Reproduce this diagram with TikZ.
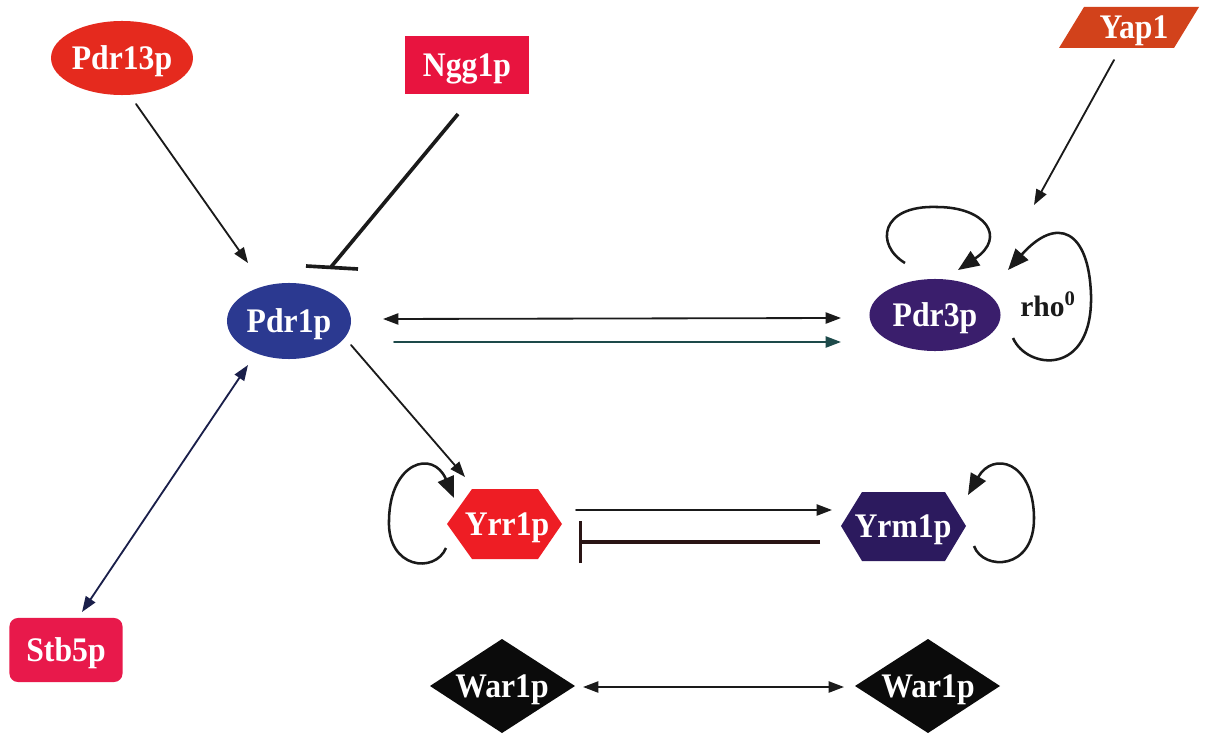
\documentclass[tikz,border=0pt]{standalone}
\usepackage{fontspec}
\usepackage{graphicx}
\setmainfont{Liberation Serif}
\usetikzlibrary{arrows.meta,shapes.geometric}
\definecolor{cPdrT}{HTML}{E52A1E}
\definecolor{cNgg}{HTML}{E8143F}
\definecolor{cYap}{HTML}{D2421B}
\definecolor{cPdrA}{HTML}{2B3990}
\definecolor{cPdrC}{HTML}{3A1E6C}
\definecolor{cStb}{HTML}{E8194B}
\definecolor{cYrr}{HTML}{EE1D24}
\definecolor{cYrm}{HTML}{2C1A5E}
\definecolor{cWar}{HTML}{0B0B0B}
\definecolor{linec}{HTML}{1A1A1A}
\definecolor{tealc}{HTML}{1D4A4A}
\definecolor{navyc}{HTML}{1A1F4A}
\definecolor{brownc}{HTML}{2A1515}
\newcommand{\lab}[1]{\scalebox{0.92}[1]{#1}}
\tikzset{
  lbl/.style={font=\fontsize{24.5}{26}\selectfont\bfseries, text=white, inner sep=0pt, text height=16.2pt, text depth=0pt},
  ell/.style={ellipse, inner sep=0pt, lbl},
  box/.style={rectangle, inner sep=0pt, lbl},
  con/.style={line width=1.3pt, draw=linec, line cap=round},
  onehead/.style={con, -{Triangle[length=11pt,width=8pt]}},
  twohead/.style={con, {Triangle[length=11pt,width=8pt]}-{Triangle[length=11pt,width=8pt]}},
  loopline/.style={line width=1.8pt, draw=linec, -{Triangle[length=15pt,width=12pt]}},
  inhib/.style={line width=2.6pt, draw=linec},
}
\begin{document}
\begin{tikzpicture}[x=0.025cm,y=-0.025cm]
\useasboundingbox[fill=white] (0,0) rectangle (1210,735);

% ---- nodes with shapes
\node[ell, fill=cPdrT, minimum width=3.225cm, minimum height=1.85cm] (pdr13) at (122,58) {\lab{Pdr13p}};
\node[box, fill=cNgg, minimum width=3.075cm, minimum height=1.45cm] (ngg1) at (467,65) {\lab{Ngg1p}};
\node[ell, fill=cPdrA, minimum width=3.1cm, minimum height=1.9cm] (pdr1) at (289,321) {\lab{Pdr1p}};
\node[ell, fill=cPdrC, minimum width=3.275cm, minimum height=1.8cm] (pdr3) at (935,315) {\lab{Pdr3p}};
\node[box, fill=cStb, rounded corners=6pt, minimum width=2.825cm, minimum height=1.6cm] (stb5) at (66,650) {\lab{Stb5p}};

% drawn shapes
\fill[cYap] (1084,7) -- (1199,7) -- (1174,48) -- (1059,48) -- cycle;
\fill[cYrr] (447,524) -- (472,489) -- (538,489) -- (562,524) -- (538,559) -- (472,559) -- cycle;
\fill[cYrm] (841,526) -- (862,492) -- (945,492) -- (966,526) -- (945,561) -- (862,561) -- cycle;
\fill[cWar] (430,686) -- (502,639) -- (575,686) -- (502,733) -- cycle;
\fill[cWar] (855,686) -- (928,639) -- (1000,686) -- (928,733) -- cycle;

\node[lbl] (yap1) at (1134,27) {\lab{Yap1}};
\node[lbl] (yrr1) at (507,524) {\lab{Yrr1p}};
\node[lbl] (yrm1) at (903,526) {\lab{Yrm1p}};
\node[lbl] (war1a) at (502,686) {\lab{War1p}};
\node[lbl] (war1b) at (928,686) {\lab{War1p}};
\node[inner sep=0pt, font=\fontsize{21}{23}\selectfont\bfseries, text=linec] (rho) at (1048,304) {rho\textsuperscript{0}};

% ---- connectors
\draw[onehead] ([shift={(14,46)}]pdr13.center) -- ([shift={(-41,-58)}]pdr1.center);
\draw[inhib] ([shift={(-9,49)}]ngg1.center) -- ([shift={(42,-54)}]pdr1.center);
\draw[inhib] ([shift={(17,-55)}]pdr1.center) -- ([shift={(69,-52)}]pdr1.center);
\draw[onehead] ([shift={(-20,33)}]yap1.center) -- ([shift={(99,-110)}]pdr3.center);
\draw[twohead] ([shift={(94,-2)}]pdr1.center) -- ([shift={(-94,3)}]pdr3.center);
\draw[onehead, draw=tealc] ([shift={(105,21)}]pdr1.center) -- ([shift={(-94,27)}]pdr3.center);
\draw[onehead] ([shift={(62,24)}]pdr1.center) -- ([shift={(-42,-47)}]yrr1.center);
\draw[twohead, draw=navyc] ([shift={(16,-38)}]stb5.center) -- ([shift={(-41,44)}]pdr1.center);
\draw[onehead] ([shift={(69,-14)}]yrr1.center) -- ([shift={(-71,-16)}]yrm1.center);
\draw[line width=2.4pt, draw=brownc, -{Bar[width=30pt,line width=2.4pt]}] ([shift={(-83,16)}]yrm1.center) -- ([shift={(72,18)}]yrr1.center);
\draw[twohead] ([shift={(81,1)}]war1a.center) -- ([shift={(-84,1)}]war1b.center);

% ---- self loops
\begin{scope}[shift={(pdr3.center)}]
\draw[loopline] (-30,-52) .. controls (-60,-70) and (-55,-110) .. (2,-108)
                .. controls (50,-108) and (72,-78) .. (23,-45);
\draw[loopline] (78,23) .. controls (92,55) and (158,62) .. (156,-20)
                .. controls (154,-85) and (122,-100) .. (73,-45);
\end{scope}
\begin{scope}[shift={(yrr1.center)}]
\draw[loopline] (-61,24) .. controls (-72,50) and (-120,45) .. (-118,-4)
                .. controls (-117,-62) and (-74,-75) .. (-53,-26);
\end{scope}
\begin{scope}[shift={(yrm1.center)}]
\draw[loopline] (71,20) .. controls (80,45) and (132,45) .. (131,-9)
                .. controls (130,-65) and (90,-75) .. (65,-31);
\end{scope}
\end{tikzpicture}
\end{document}
